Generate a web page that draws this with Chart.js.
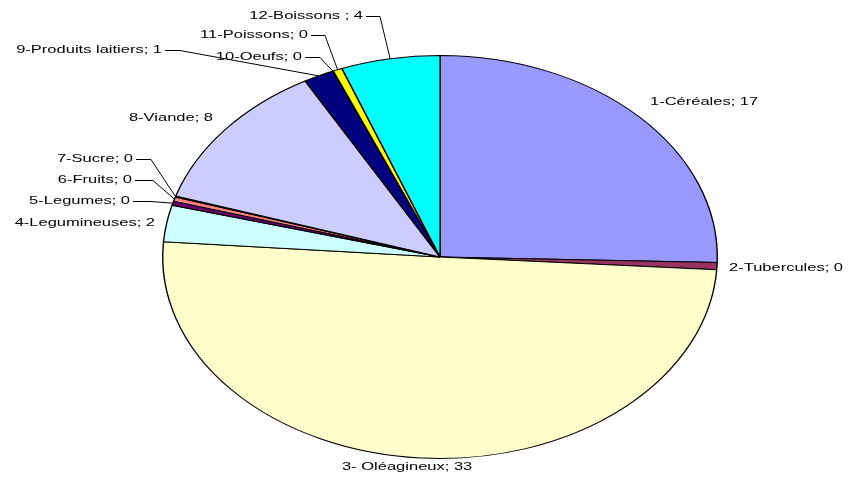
<!DOCTYPE html>
<html>
<head>
<meta charset="utf-8">
<script src="https://cdn.jsdelivr.net/npm/chart.js@4"></script>
<style>
  html, body { margin: 0; padding: 0; background: #ffffff; }
  #wrap { width: 848px; height: 481px; }
</style>
</head>
<body>
<div id="wrap"><canvas id="c" width="848" height="481"></canvas></div>
<script>
// ---- data ----
const categories = ['1-Céréales', '2-Tubercules', '3- Oléagineux', '4-Legumineuses', '5-Legumes', '6-Fruits',
                    '7-Sucre', '8-Viande', '9-Produits laitiers', '10-Oeufs', '11-Poissons', '12-Boissons '];
const values = [16.8, 0.37, 33.15, 1.94, 0.22, 0.22, 0.055, 7.94, 1.15, 0.04, 0.35, 3.8];
const sliceColors = ['#9999FF', '#993366', '#FFFFCC', '#CCFFFF', '#660066', '#FF8080',
                     '#0066CC', '#CCCCFF', '#000080', '#FF00FF', '#FFFF00', '#00FFFF'];

// ---- layout / style ----
const SX = 1.376;          // horizontal stretch of the pie (ellipse)
const TX = 1.5;            // horizontal stretch of label text
const FONT = '11px "Liberation Sans", Arial, sans-serif';
const labelLayout = [
  {x: 650, y: 102, align: 'left',  line: false},
  {x: 729, y: 268, align: 'left',  line: false},
  {x: 342, y: 467, align: 'left',  line: false},
  {x: 155, y: 223, align: 'right', line: false},
  {x: 130, y: 201, align: 'right', line: true, elbow: 150},
  {x: 132, y: 180, align: 'right', line: true, elbow: 153},
  {x: 133, y: 159, align: 'right', line: true, elbow: 151},
  {x: 213, y: 118, align: 'right', line: false},
  {x: 162, y: 50,  align: 'right', line: true, elbow: 180},
  {x: 302, y: 57,  align: 'right', line: true, elbow: 320},
  {x: 308, y: 35,  align: 'right', line: true, elbow: 325},
  {x: 363, y: 16,  align: 'right', line: true, elbow: 380}
];

const ellipsePlugin = {
  id: 'ellipse',
  beforeDatasetsDraw(chart) {
    const a = chart.getDatasetMeta(0).data[0];
    const ctx = chart.ctx;
    ctx.save();
    ctx.translate(a.x, a.y);
    ctx.scale(SX, 1);
    ctx.translate(-a.x, -a.y);
  },
  afterDatasetsDraw(chart) {
    chart.ctx.restore();
  }
};

const labelPlugin = {
  id: 'pieLabels',
  afterDraw(chart) {
    const ctx = chart.ctx;
    const meta = chart.getDatasetMeta(0);
    const vals = chart.data.datasets[0].data;
    ctx.save();
    ctx.font = FONT;
    ctx.textBaseline = 'middle';
    ctx.strokeStyle = '#000';
    ctx.lineWidth = 1;
    meta.data.forEach((arc, i) => {
      const L = labelLayout[i];
      const text = chart.data.labels[i] + '; ' + Math.round(vals[i]);
      if (L.line) {
        const mid = (arc.startAngle + arc.endAngle) / 2;
        const R = arc.outerRadius;
        const rx = arc.x + SX * R * Math.cos(mid);
        const ry = arc.y + R * Math.sin(mid);
        ctx.beginPath();
        ctx.moveTo(L.x + 3, L.y + 0.5);
        ctx.lineTo(L.elbow, L.y + 0.5);
        ctx.lineTo(rx, ry);
        ctx.stroke();
      }
      ctx.save();
      ctx.translate(L.x, L.y);
      ctx.scale(TX, 1);
      ctx.textAlign = L.align;
      ctx.fillStyle = '#000';
      ctx.fillText(text, 0, 0);
      ctx.restore();
    });
    ctx.restore();
  }
};

new Chart(document.getElementById('c'), {
  type: 'pie',
  data: {
    labels: categories,
    datasets: [{
      data: values,
      backgroundColor: sliceColors,
      borderColor: '#000000',
      borderWidth: 1,
      hoverOffset: 0
    }]
  },
  options: {
    responsive: false,
    animation: false,
    events: [],
    layout: { padding: { left: 200, right: 168, top: 55, bottom: 22 } },
    plugins: { legend: { display: false }, tooltip: { enabled: false } }
  },
  plugins: [ellipsePlugin, labelPlugin]
});
</script>
</body>
</html>
